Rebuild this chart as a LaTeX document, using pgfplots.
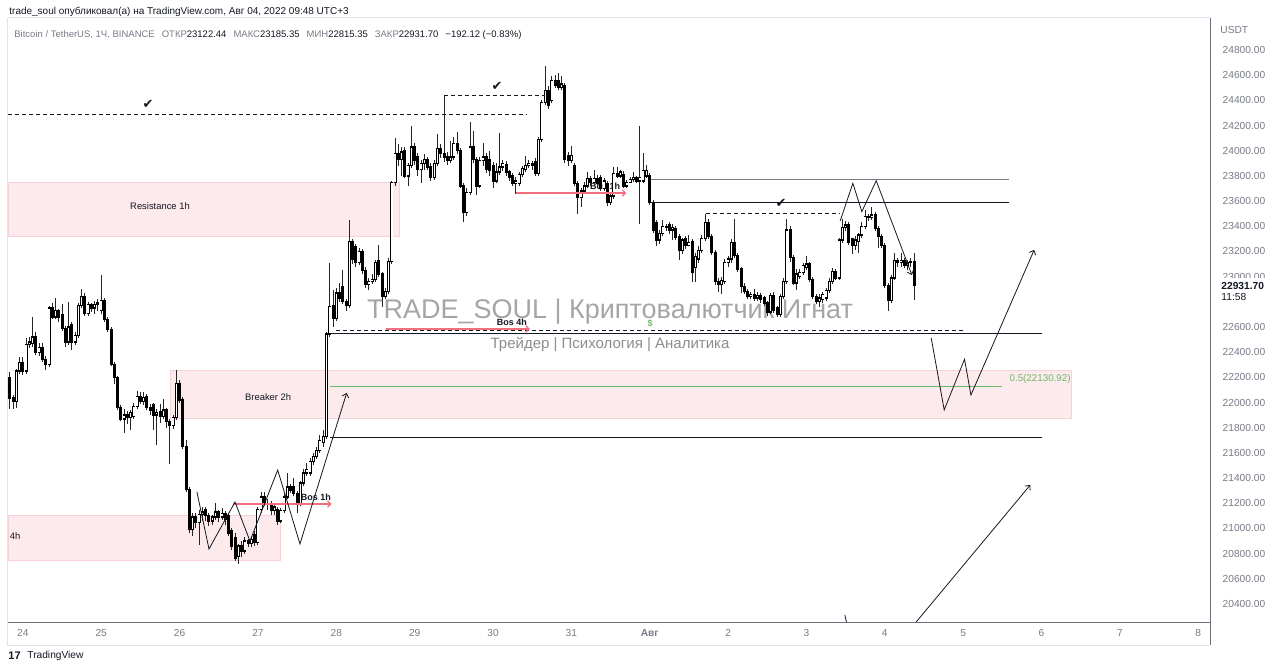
\documentclass[border=0pt]{standalone}
\usepackage{pgfplots}
\pgfplotsset{compat=1.18}
\usepackage{pgfplotstable}
\usepackage{fontspec}
\setmainfont{Liberation Sans}
\newfontfamily\symfont{DejaVu Sans}
\usetikzlibrary{arrows.meta}

\definecolor{tvgray}{RGB}{120,123,134}
\definecolor{tvtext}{RGB}{19,23,34}
\definecolor{zonefill}{RGB}{253,234,236}
\definecolor{zoneedge}{RGB}{246,210,215}
\definecolor{bosred}{RGB}{242,110,124}
\definecolor{fibgreen}{RGB}{108,186,108}
\definecolor{framec}{RGB}{224,227,235}
\definecolor{wm}{RGB}{165,165,165}
\definecolor{wmsub}{RGB}{140,140,140}

% hourly candles, i = hours from Jul 23 20:00
\pgfplotstableread{
i o h l c
0 22195 22245 21950 22035
1 22035 22060 21950 22010
2 22010 22270 21960 22250
3 22250 22360 22230 22320
4 22320 22360 22220 22250
5 22250 22510 22230 22460
6 22460 22520 22430 22480
7 22470 22680 22440 22520
8 22520 22560 22380 22400
9 22400 22470 22370 22440
10 22440 22470 22320 22340
11 22340 22370 22260 22300
12 22300 22770 22280 22750
13 22750 22790 22660 22680
14 22680 22830 22660 22730
15 22730 22740 22640 22680
16 22700 22780 22570 22590
17 22590 22610 22440 22480
18 22480 22800 22460 22600
19 22620 22640 22420 22480
20 22480 22560 22460 22530
21 22530 22790 22510 22770
22 22770 22900 22750 22840
23 22840 22870 22690 22710
24 22710 22800 22690 22780
25 22780 22790 22720 22750
26 22750 22810 22700 22780
27 22780 22820 22730 22790
28 22730 23010 22700 22810
29 22810 22830 22640 22660
30 22660 22680 22560 22580
31 22580 22600 22290 22300
32 22300 22320 22150 22200
33 22200 22210 21940 21960
34 21960 21980 21850 21870
35 21870 21950 21760 21900
36 21900 21930 21830 21880
37 21880 21940 21780 21920
38 21890 22000 21870 21970
39 21970 22090 21950 22050
40 22050 22080 21990 22010
41 22010 22080 21980 22040
42 22050 22070 21940 21960
43 21960 21990 21900 21940
44 21980 22000 21780 21900
45 21900 21950 21660 21920
46 21930 21990 21840 21890
47 21890 22030 21870 21940
48 21940 21960 21800 21850
49 21850 21870 21510 21820
50 21820 21900 21790 21880
51 21880 22260 21860 22150
52 22150 22180 22000 22020
53 22020 22040 21630 21650
54 21650 21700 21290 21310
55 21310 21330 20960 20990
56 20990 21120 20940 21090
57 21090 21120 21000 21050
58 21050 21150 20870 21110
59 21110 21170 21060 21130
60 21150 21170 21060 21100
61 21100 21120 21020 21060
62 21060 21110 21030 21090
63 21090 21200 21070 21130
64 21130 21150 21050 21090
65 21090 21160 21070 21120
66 21120 21140 21030 21070
67 21100 21120 20940 20960
68 20980 21000 20830 20860
69 20930 20960 20740 20760
70 20780 20880 20720 20860
71 20860 20900 20770 20820
72 20820 20930 20800 20900
73 20900 20920 20850 20880
74 20880 20940 20850 20910
75 20950 20980 20860 20890
76 20890 21170 20870 21150
77 21150 21290 21120 21250
78 21250 21290 21180 21200
79 21200 21230 21150 21190
80 21190 21220 21110 21140
81 21140 21200 21110 21170
82 21150 21170 21030 21060
83 21060 21160 21040 21140
84 21140 21280 21120 21250
85 21250 21440 21230 21330
86 21330 21350 21280 21300
87 21330 21400 21260 21280
88 21280 21300 21120 21200
89 21200 21380 21180 21360
90 21360 21470 21340 21440
91 21440 21520 21420 21470
92 21440 21560 21420 21530
93 21530 21600 21500 21570
94 21570 21650 21550 21620
95 21620 21740 21600 21700
96 21680 21780 21650 21730
97 21730 22560 21710 22545
98 22545 23110 22520 22760
99 22770 22890 22600 22670
100 22670 22910 22650 22870
101 22870 22950 22800 22830
102 22920 23050 22780 22800
103 22800 22820 22730 22770
104 22770 23450 22750 23280
105 23280 23300 23100 23140
106 23240 23260 23080 23110
107 23110 23230 23090 23200
108 23200 23220 23020 23050
109 23050 23080 22910 22940
110 22940 22990 22890 22960
111 22960 23020 22940 22980
112 22980 23130 22960 23110
113 23130 23250 23000 23020
114 23020 23040 22760 22840
115 22840 22910 22820 22880
116 22880 23150 22860 23120
117 23120 23760 23100 23745
118 23745 24100 23720 23980
119 23980 24050 23880 23930
120 23930 24030 23800 23990
121 24000 24030 23780 23800
122 23800 23900 23720 23880
123 23880 24200 23860 24030
124 24030 24060 23890 23920
125 23950 23980 23800 23850
126 23850 23930 23740 23900
127 23900 23970 23850 23930
128 23930 23950 23850 23870
129 23870 23900 23760 23790
130 23790 23930 23770 23900
131 23900 24130 23880 24020
132 24020 24050 23940 23980
133 23980 24435 23910 23950
134 23950 23990 23890 23920
135 23920 24080 23900 23950
136 23950 24110 23930 24060
137 24060 24150 23970 24000
138 24000 24020 23700 23720
139 23720 23740 23430 23510
140 23510 23700 23480 23670
141 23670 24230 23650 24030
142 24030 24160 23900 23930
143 23930 23950 23650 23720
144 23720 23950 23700 23920
145 23920 24060 23880 23950
146 23950 23980 23820 23850
147 23930 24000 23800 23840
148 23880 23910 23700 23760
149 23760 23900 23740 23830
150 23830 24140 23810 23870
151 23870 23930 23840 23900
152 23890 23920 23800 23830
153 23830 23850 23760 23790
154 23800 23820 23720 23740
155 23740 23790 23660 23760
156 23740 23830 23720 23810
157 23810 23880 23790 23860
158 23850 23960 23830 23880
159 23880 23930 23860 23900
160 23900 23920 23850 23880
161 23910 23940 23800 23820
162 23820 24110 23800 24090
163 24090 24400 24070 24380
164 24380 24670 24360 24480
165 24480 24510 24330 24360
166 24400 24590 24380 24560
167 24560 24600 24500 24520
168 24560 24620 24480 24500
169 24500 24590 24480 24530
170 24520 24540 23900 23930
171 23960 23990 23880 23920
172 23920 24040 23900 23960
173 23880 23900 23720 23740
174 23740 23760 23500 23630
175 23630 23700 23550 23680
176 23680 23750 23660 23720
177 23720 23830 23700 23780
178 23780 23800 23720 23750
179 23750 23850 23730 23780
180 23780 23810 23720 23740
181 23790 23810 23680 23700
182 23700 23780 23680 23760
183 23740 23760 23560 23590
184 23590 23660 23570 23640
185 23640 23870 23620 23820
186 23820 23870 23780 23800
187 23800 23850 23780 23830
188 23810 23840 23700 23720
189 23720 23770 23700 23750
190 23750 23790 23740 23770
191 23770 23830 23750 23790
192 23790 23800 23740 23760
193 23760 24200 23420 23790
194 23760 23980 23740 23840
195 23800 23890 23780 23840
196 23800 23820 23570 23590
197 23590 23610 23350 23370
198 23430 23450 23240 23290
199 23290 23370 23260 23340
200 23340 23450 23320 23400
201 23400 23420 23360 23390
202 23410 23430 23340 23370
203 23370 23420 23290 23390
204 23380 23400 23290 23310
205 23320 23340 23130 23210
206 23210 23310 23180 23290
207 23300 23320 23220 23250
208 23250 23330 23240 23270
209 23280 23300 22960 23030
210 23070 23190 22960 23160
211 23140 23240 23110 23210
212 23210 23330 23190 23300
213 23300 23500 23280 23430
214 23430 23460 23300 23320
215 23320 23340 23170 23190
216 23190 23210 22930 22960
217 22960 22990 22880 22940
218 22940 23000 22860 22970
219 22960 23140 22940 23110
220 23110 23160 23080 23140
221 23140 23300 23110 23270
222 23270 23460 23150 23170
223 23170 23190 23040 23060
224 23060 23080 22870 22920
225 22920 22950 22860 22880
226 22880 22900 22820 22840
227 22840 22880 22820 22860
228 22860 22900 22810 22830
229 22830 22880 22810 22850
230 22850 22870 22790 22820
231 22830 22850 22770 22790
232 22790 22810 22690 22720
233 22720 22870 22700 22850
234 22850 22880 22710 22730
235 22750 22770 22680 22700
236 22700 22860 22680 22840
237 22840 22990 22820 22960
238 22960 23460 22940 23370
239 23370 23400 23120 23150
240 23150 23170 22930 22950
241 22950 23060 22890 23020
242 23000 23060 22980 23030
243 23030 23110 23010 23090
244 23070 23160 23050 23100
245 23100 23120 22960 22980
246 22980 23000 22820 22840
247 22840 22860 22780 22800
248 22800 22860 22760 22830
249 22820 22880 22790 22860
250 22830 22910 22810 22890
251 22890 22990 22870 22960
252 22960 23070 22940 23040
253 23040 23060 22970 22990
254 22990 23310 22970 23290
255 23290 23460 23270 23390
256 23390 23440 23360 23410
257 23410 23430 23250 23270
258 23300 23310 23180 23250
259 23250 23320 23210 23290
260 23280 23350 23190 23330
261 23330 23430 23310 23400
262 23400 23530 23380 23480
263 23480 23500 23440 23470
264 23470 23550 23450 23490
265 23490 23510 23360 23380
266 23380 23400 23230 23320
267 23320 23340 23230 23250
268 23250 23270 22910 22930
269 22930 22950 22730 22810
270 22810 23010 22790 22990
271 22990 23190 22970 23130
272 23130 23150 23080 23110
273 23110 23190 23080 23130
274 23130 23150 23070 23090
275 23090 23130 23050 23110
276 23110 23150 23080 23120
277 23122.44 23185.35 22815.35 22931.70
}\candles

\begin{document}
\begin{tikzpicture}
\path[use as bounding box] (-4pt,-24pt) rectangle (636pt,311pt);

% watermark (behind everything)
\node[text=wm, font=\fontsize{13.5}{14}\selectfont] at (301pt,155pt) {TRADE\_SOUL | Криптовалютчик Игнат};
\node[text=wmsub, font=\fontsize{7.5}{8}\selectfont] at (301pt,138.5pt) {Трейдер | Психология | Аналитика};

\begin{axis}[
  at={(0pt,0pt)}, anchor=south west, scale only axis,
  width=601pt, height=302pt,
  xmin=23.81, xmax=39.15, ymin=20257, ymax=25054,
  axis line style={draw=none},
  major tick length=0pt,
  xtick={24,...,39},
  xticklabels={24,25,26,27,28,29,30,31,\textbf{Авг},2,3,4,5,6,7,8},
  xtick pos=bottom,
  ytick={20400,20600,...,24800},
  yticklabels={20400.00,20600.00,20800.00,21000.00,21200.00,21400.00,21600.00,21800.00,22000.00,22200.00,22400.00,22600.00,{},23000.00,23200.00,23400.00,23600.00,23800.00,24000.00,24200.00,24400.00,24600.00,24800.00},
  ytick pos=right, yticklabel pos=right,
  scaled y ticks=false,
  tick label style={font=\fontsize{5.1}{6}\selectfont, text=tvgray},
  yticklabel style={anchor=west, xshift=2.8pt},
  xticklabel style={yshift=0pt},
  clip mode=individual,
]
% zones
\filldraw[fill=zonefill, draw=zoneedge, line width=0.3pt] (axis cs:23.81,23323) rectangle (axis cs:28.81,23752);
\filldraw[fill=zonefill, draw=zoneedge, line width=0.3pt] (axis cs:25.877,21877) rectangle (axis cs:37.38,22259);
\filldraw[fill=zonefill, draw=zoneedge, line width=0.3pt] (axis cs:23.81,20750) rectangle (axis cs:27.29,21107);
\node[font=\fontsize{4.7}{5}\selectfont, text=tvtext] at (axis cs:25.75,23561) {Resistance 1h};
\node[font=\fontsize{4.7}{5}\selectfont, text=tvtext] at (axis cs:27.13,22044) {Breaker 2h};
\node[anchor=west, inner sep=0, font=\fontsize{4.7}{5}\selectfont, text=tvtext] at (axis cs:23.83,20940) {4h};
\node[font=\bfseries\fontsize{4.5}{5}\selectfont, text=tvtext] at (axis cs:27.74,21250) {Bos 1h};
\node[font=\bfseries\fontsize{4.5}{5}\selectfont, text=tvtext] at (axis cs:31.43,23720) {Bos 1h};

% candles: wicks, bodies, hollow inside of rising candles
\addplot[black!85, line width=0.5pt, quiver={u=0, v={\thisrow{h}-\thisrow{l}}}]
  table[x expr={23.8333+\thisrow{i}/24}, y=l] {\candles};
\addplot[black, line width=1.5pt, quiver={u=0, v={abs(\thisrow{c}-\thisrow{o})+10}}]
  table[x expr={23.8333+\thisrow{i}/24}, y expr={min(\thisrow{o},\thisrow{c})-5}] {\candles};
\addplot[white, line width=0.75pt, quiver={u=0, v={max(\thisrow{c}-\thisrow{o}-10,0)}}]
  table[x expr={23.8333+\thisrow{i}/24}, y expr={\thisrow{o}+5}] {\candles};

% levels
\draw[tvtext, line width=0.45pt, dash pattern=on 2pt off 1.5pt] (axis cs:23.81,24284) -- (axis cs:30.43,24284);
\draw[tvtext, line width=0.45pt, dash pattern=on 2pt off 1.5pt] (axis cs:29.37,24435) -- (axis cs:30.66,24435);
\draw[tvtext, line width=0.45pt, dash pattern=on 2pt off 1.5pt] (axis cs:28.0,22576) -- (axis cs:36.03,22576);
\draw[tvtext, line width=0.5pt] (axis cs:27.92,22545) -- (axis cs:37.01,22545);
\draw[tvtext, line width=0.5pt] (axis cs:27.92,21726) -- (axis cs:37.01,21726);
\draw[fibgreen, line width=0.5pt] (axis cs:27.92,22124) -- (axis cs:36.50,22124);
\draw[tvgray, line width=0.5pt] (axis cs:32.01,23775) -- (axis cs:36.59,23775);
\draw[tvtext, line width=0.5pt] (axis cs:32.01,23585) -- (axis cs:36.59,23585);
\draw[tvtext, line width=0.45pt, dash pattern=on 2pt off 1.5pt] (axis cs:32.72,23498) -- (axis cs:34.43,23498);

% break-of-structure arrows
\draw[bosred, line width=0.6pt, -{Straight Barb[length=1.6pt,width=3.2pt]}] (axis cs:28.63,22584) -- (axis cs:30.47,22584);
\draw[bosred, line width=0.6pt, -{Straight Barb[length=1.6pt,width=3.2pt]}] (axis cs:30.29,23664) -- (axis cs:31.70,23664);
\draw[bosred, line width=0.6pt, -{Straight Barb[length=1.6pt,width=3.2pt]}] (axis cs:26.68,21194) -- (axis cs:27.94,21194);
\node[font=\bfseries\fontsize{4.5}{5}\selectfont, text=tvtext] at (axis cs:30.24,22640) {Bos 4h};

% swing paths
\draw[tvtext, line width=0.4pt, -{Straight Barb[length=1.8pt,width=3.4pt]}]
  (axis cs:26.221,21290) -- (axis cs:26.375,20837) -- (axis cs:26.707,21210) -- (axis cs:26.898,20900)
  -- (axis cs:27.252,21464) -- (axis cs:27.536,20877) -- (axis cs:28.132,22076);
\draw[tvtext, line width=0.4pt, -{Straight Barb[length=1.8pt,width=3.4pt]}]
  (axis cs:34.430,23442) -- (axis cs:34.592,23741) -- (axis cs:34.707,23516) -- (axis cs:34.890,23762) -- (axis cs:35.345,23013);
\draw[tvtext, line width=0.4pt, -{Straight Barb[length=1.8pt,width=3.4pt]}]
  (axis cs:35.592,22513) -- (axis cs:35.758,21941) -- (axis cs:36.017,22344) -- (axis cs:36.099,22060) -- (axis cs:36.906,23212);
\draw[tvtext, line width=0.4pt, -{Straight Barb[length=1.8pt,width=3.4pt]}]
  (axis cs:35.40,20257) -- (axis cs:36.856,21345);
\draw[tvtext, line width=0.4pt] (axis cs:34.49,20313) -- (axis cs:34.51,20257);

% marks and labels
\node[font=\symfont\fontsize{6.5}{7}\selectfont, text=tvtext] at (axis cs:25.596,24371) {✔};
\node[font=\symfont\fontsize{6.5}{7}\selectfont, text=tvtext] at (axis cs:30.051,24514) {✔};
\node[font=\symfont\fontsize{6.5}{7}\selectfont, text=tvtext] at (axis cs:33.677,23585) {✔};
\node[font=\bfseries\fontsize{4.5}{5}\selectfont, text=fibgreen] at (axis cs:32.005,22624) {\$};
\node[anchor=west, inner sep=0, font=\fontsize{4.9}{5}\selectfont, text=fibgreen] at (axis cs:36.587,22187) {0.5(22130.92)};
\end{axis}

% frame and price scale
\draw[framec, line width=0.5pt] (0pt,302pt) -- (601pt,302pt);
\draw[framec, line width=0.5pt] (0pt,302pt) -- (0pt,-11.5pt) -- (601pt,-11.5pt);
\draw[tvgray!90!black, line width=0.5pt] (0pt,0pt) -- (601pt,0pt);
\draw[tvgray!90!black, line width=0.5pt] (601pt,302pt) -- (601pt,-11.5pt);
\node[anchor=west, inner sep=0, font=\fontsize{5.1}{6}\selectfont, text=tvgray] at (606pt,296pt) {USDT};
\fill[white] (601.5pt,159pt) rectangle (636pt,172pt);
\node[anchor=west, inner sep=0, font=\bfseries\fontsize{5.1}{6}\selectfont, text=tvtext] at (606.5pt,168pt) {22931.70};
\node[anchor=west, inner sep=0, font=\fontsize{5.1}{6}\selectfont, text=tvtext] at (606.5pt,162.5pt) {11:58};

% header
\node[anchor=west, inner sep=0, font=\fontsize{5}{6}\selectfont, text=tvtext] at (0.5pt,305pt)
  {trade\_soul опубликовал(а) на TradingView.com, Авг 04, 2022 09:48 UTC+3};
\node[anchor=west, inner sep=0, font=\fontsize{4.75}{6}\selectfont, text=tvgray] at (3pt,293.5pt)
  {Bitcoin / TetherUS, 1Ч, BINANCE\hspace{3.5pt}ОТКР\textcolor{tvtext}{23122.44}\hspace{3.5pt}МАКС\textcolor{tvtext}{23185.35}\hspace{3.5pt}МИН\textcolor{tvtext}{22815.35}\hspace{3.5pt}ЗАКР\textcolor{tvtext}{22931.70}\hspace{3.5pt}\textcolor{tvtext}{−192.12 (−0.83\%)}};

% footer logo
\node[anchor=west, inner sep=0, font=\bfseries\fontsize{5.5}{6}\selectfont, text=tvtext] at (0pt,-17pt) {17};
\node[anchor=west, inner sep=0, font=\fontsize{5.1}{6}\selectfont, text=tvtext] at (9.5pt,-17pt) {TradingView};
\end{tikzpicture}
\end{document}
